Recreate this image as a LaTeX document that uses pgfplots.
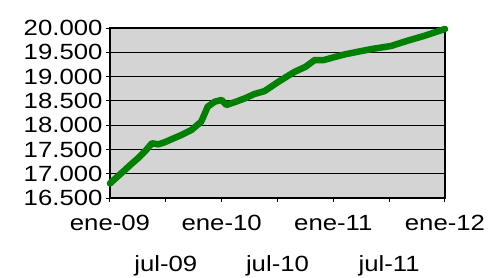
\documentclass[border=0pt]{standalone}
\usepackage{fontspec}
\setmainfont[FakeStretch=1.17]{Liberation Sans}
\usepackage{pgfplots}
\pgfplotsset{compat=1.18}
\definecolor{plotbg}{RGB}{212,212,212}
\definecolor{linegreen}{RGB}{0,128,0}
\begin{document}
\begin{tikzpicture}[x=1pt,y=1pt]
\path[use as bounding box] (0,0) rectangle (491,277);
\begin{axis}[
  at={(110pt,79pt)}, anchor=south west,
  scale only axis, width=335pt, height=170pt,
  xmin=0, xmax=36, ymin=16500, ymax=20000,
  scaled y ticks=false,
  axis background/.style={fill=plotbg},
  ytick={16500,17000,17500,18000,18500,19000,19500,20000},
  yticklabels={16.500,17.000,17.500,18.000,18.500,19.000,19.500,20.000},
  ymajorgrids, grid style={black, line width=1.2pt},
  xtick={0,12,24,36}, xticklabels={ene-09,ene-10,ene-11,ene-12},
  xticklabel style={yshift=-10pt},
  extra x ticks={6,18,30}, extra x tick labels={jul-09,jul-10,jul-11},
  extra x tick style={grid=none, xticklabel style={yshift=-40pt}},
  xtick pos=bottom, ytick pos=left,
  tick align=outside, major tick length=4pt,
  tick style={black, line width=1pt},
  axis line style={black, line width=1.2pt},
  tick label style={font=\fontsize{22}{24}\selectfont, text=black},
  /pgf/number format/assume math mode=true,
  clip=false,
]
\addplot[linegreen, line width=6.5pt, line join=round, line cap=round] coordinates {
(0,16800) (0.8,16940) (1.6,17076) (2.3,17200) (3.0,17317) (3.8,17470) (4.5,17626)
(5.2,17605) (5.9,17650) (6.6,17708) (7.7,17800) (8.75,17900) (9.8,18071)
(10.5,18380) (11.25,18483) (12.0,18518) (12.5,18415) (13.5,18480) (14.5,18552)
(15.5,18640) (16.6,18700) (17.3,18790) (18.0,18880) (19.0,19000) (19.8,19094)
(21.0,19200) (22.0,19341) (23.0,19341) (24.1,19400) (25.3,19460) (26.6,19510)
(28.2,19570) (30.2,19630) (32.0,19740) (33.8,19840) (36,19980)
};
\end{axis}
\end{tikzpicture}
\end{document}
